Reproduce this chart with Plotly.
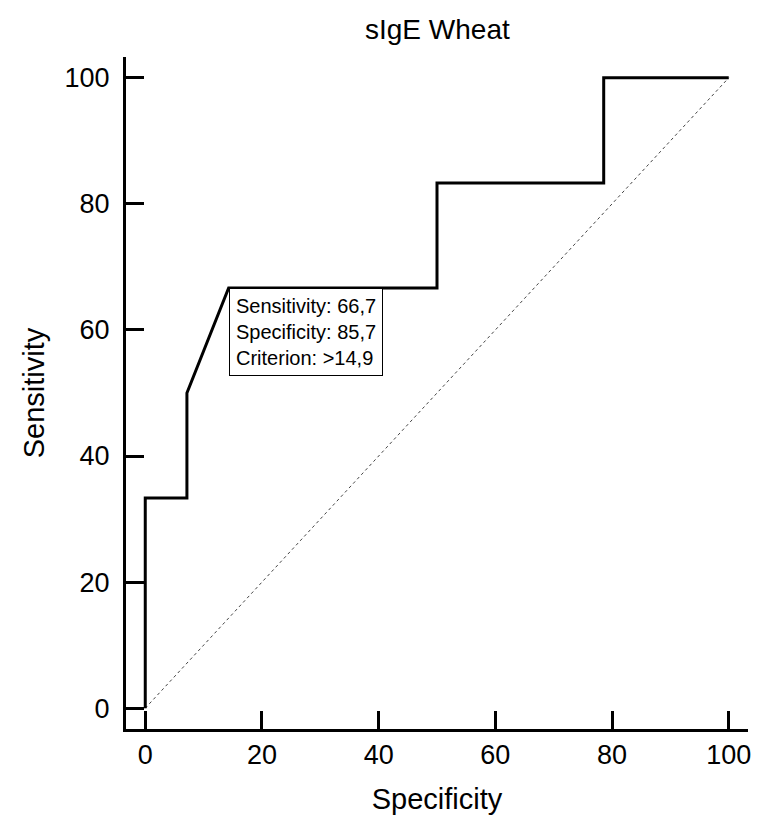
import plotly.graph_objects as go

# ROC curve data (x labelled "Specificity", y "Sensitivity")
roc_x = [0, 0, 7.14, 7.14, 14.29, 50, 50, 78.57, 78.57, 100]
roc_y = [0, 33.33, 33.33, 50, 66.67, 66.67, 83.33, 83.33, 100, 100]
diag_x = [0, 100]
diag_y = [0, 100]
tick_vals = [0, 20, 40, 60, 80, 100]
tick_text = ["0", "20", "40", "60", "80", "100"]
cut_x = 14.29
cut_y = 66.67
cut_lines = ["Sensitivity: 66,7", "Specificity: 85,7", "Criterion: >14,9"]

FONT = "Liberation Sans, Arial, sans-serif"

fig = go.Figure()
fig.add_trace(go.Scatter(x=diag_x, y=diag_y, mode="lines",
                         line=dict(color="#444444", width=1, dash="dot"),
                         hoverinfo="skip", showlegend=False))
fig.add_trace(go.Scatter(x=roc_x, y=roc_y, mode="lines",
                         line=dict(color="black", width=3),
                         showlegend=False))

fig.add_annotation(x=cut_x, y=cut_y, xref="x", yref="y",
                   text="<br>".join(cut_lines), showarrow=False,
                   xanchor="left", yanchor="top", align="left",
                   bgcolor="white", bordercolor="black", borderwidth=1,
                   borderpad=6,
                   font=dict(family=FONT, size=20, color="black"))

axis_common = dict(showline=True, linecolor="black", linewidth=3,
                   ticks="inside", ticklen=18, tickwidth=3, tickcolor="black",
                   showgrid=False, zeroline=False, mirror=False,
                   automargin=False,
                   tickvals=tick_vals, ticktext=tick_text,
                   tickfont=dict(family=FONT, size=27, color="black"))

fig.update_layout(
    width=760, height=820,
    margin=dict(l=126, r=12, t=57, b=91),
    paper_bgcolor="white", plot_bgcolor="white",
    title=dict(text="sIgE Wheat", x=0.5755, xanchor="center", y=0.964, yanchor="middle",
               font=dict(family=FONT, size=28, color="black")),
    xaxis=dict(range=[-3.3, 103.3],
               title=dict(text="Specificity", standoff=20,
                          font=dict(family=FONT, size=29, color="black")),
               ticklabelstandoff=0, **axis_common),
    yaxis=dict(range=[-3.3, 103.3],
               title=dict(text="Sensitivity", standoff=12,
                          font=dict(family=FONT, size=29, color="black")),
               ticklabelstandoff=8, **axis_common),
)

fig.write_html("out.html")
